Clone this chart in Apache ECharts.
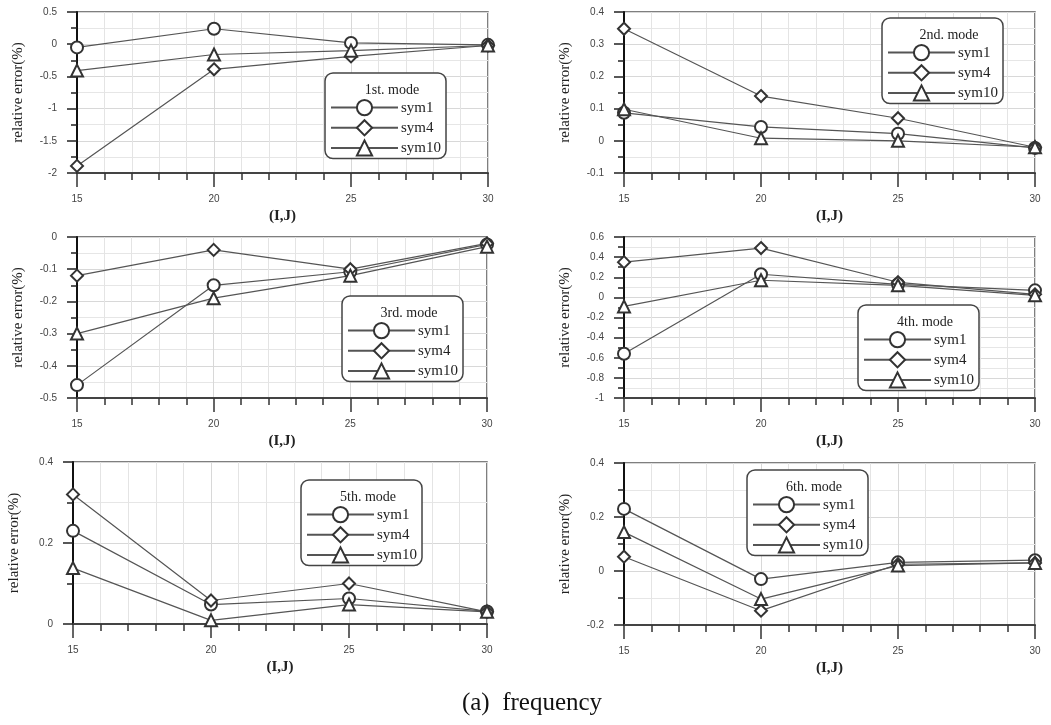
<!DOCTYPE html>
<html>
<head>
<meta charset="utf-8">
<script src="https://cdn.jsdelivr.net/npm/echarts@6/dist/echarts.min.js"></script>
<style>
    html, body { margin: 0; padding: 0; background: #fff; }
    #chart { width: 1051px; height: 725px; }
</style>
</head>
<body>
<div id="chart"></div>
<script>
// (I,J) grid sizes on the x axis
var xValues = [15, 20, 25, 30];
var modeNames = ['1st. mode', '2nd. mode', '3rd. mode', '4th. mode', '5th. mode', '6th. mode'];
var seriesNames = ['sym1', 'sym4', 'sym10'];

// relative error(%) per mode, one row per panel
var sym1 = [
    [-0.05, 0.24, 0.02, -0.01],
    [0.087, 0.043, 0.022, -0.022],
    [-0.46, -0.15, -0.108, -0.023],
    [-0.56, 0.23, 0.13, 0.07],
    [0.23, 0.048, 0.063, 0.031],
    [0.23, -0.03, 0.032, 0.04]
];
var sym4 = [
    [-1.89, -0.39, -0.19, -0.02],
    [0.348, 0.139, 0.07, -0.02],
    [-0.12, -0.04, -0.10, -0.02],
    [0.35, 0.49, 0.15, 0.03],
    [0.32, 0.058, 0.10, 0.03],
    [0.053, -0.147, 0.025, 0.03]
];
var sym10 = [
    [-0.41, -0.16, -0.10, -0.02],
    [0.098, 0.008, 0.0, -0.02],
    [-0.30, -0.19, -0.12, -0.03],
    [-0.09, 0.17, 0.12, 0.02],
    [0.138, 0.009, 0.048, 0.03],
    [0.144, -0.104, 0.02, 0.03]
];

// y axis ranges
var yMin = [-2, -0.1, -0.5, -1, 0, -0.2];
var yMax = [0.5, 0.4, 0, 0.6, 0.4, 0.4];
var yStep = [0.5, 0.1, 0.1, 0.2, 0.2, 0.2];

// layout of the six panels and their legend boxes
var gridBoxes = [
    [77, 12, 411, 161], [624, 12, 411, 161],
    [77, 237, 410, 161], [624, 237, 411, 161],
    [73, 462, 414, 162], [624, 463, 411, 162]
];
var legendBoxes = [[325, 73], [882, 18], [342, 296], [858, 305], [301, 480], [747, 470]];

var symbols = ['emptyCircle', 'emptyDiamond', 'emptyTriangle'];
var serif = '"Liberation Serif", "Times New Roman", serif';
var sans = '"Liberation Sans", Arial, sans-serif';

function createGraph(dom) {
    var chart = echarts.init(dom);
    var grids = [], xAxes = [], yAxes = [], series = [], legends = [], titles = [];
    var allData = [sym1, sym4, sym10];

    $each(modeNames, function (i, mode) {
        var g = gridBoxes[i];
        grids.push({
            left: g[0], top: g[1], width: g[2], height: g[3],
            show: true, borderColor: '#555', borderWidth: 1.5,
            outerBoundsMode: 'none'
        });
        xAxes.push({
            type: 'value', gridIndex: i,
            min: 15, max: 30, interval: 5,
            name: '(I,J)', nameLocation: 'middle', nameGap: 36,
            nameTextStyle: { fontFamily: serif, fontSize: 15, fontWeight: 'bold', color: '#222' },
            axisLine: { onZero: false, lineStyle: { color: '#444', width: 2 } },
            axisTick: { length: 14, lineStyle: { color: '#333', width: 1.5 } },
            minorTick: { show: true, splitNumber: 5, length: 7, lineStyle: { color: '#333', width: 1.5 } },
            axisLabel: { margin: 21, fontSize: 10, color: '#444', fontFamily: sans },
            splitLine: { show: true, lineStyle: { color: '#d8d8d8', width: 1 } },
            minorSplitLine: { show: true, lineStyle: { color: '#e4e4e4', width: 1 } }
        });
        yAxes.push({
            type: 'value', gridIndex: i,
            min: yMin[i], max: yMax[i], interval: yStep[i],
            name: 'relative error(%)', nameLocation: 'middle', nameGap: 51,
            nameTextStyle: { fontFamily: serif, fontSize: 15, color: '#222' },
            axisLine: { show: true, onZero: false, lineStyle: { color: '#111', width: 2 } },
            axisTick: { show: true, length: 10, lineStyle: { color: '#222', width: 1.5 } },
            minorTick: { show: true, splitNumber: 2, length: 6, lineStyle: { color: '#222', width: 1.5 } },
            axisLabel: { margin: 20, fontSize: 10, color: '#444', fontFamily: sans },
            splitLine: { show: true, lineStyle: { color: '#d8d8d8', width: 1 } },
            minorSplitLine: { show: true, lineStyle: { color: '#e6e6e6', width: 1 } }
        });
        $each(seriesNames, function (k, name) {
            var rows = allData[k][i];
            var points = [];
            $each(xValues, function (j, x) {
                points.push([x, rows[j]]);
            });
            series.push({
                name: name, type: 'line',
                xAxisIndex: i, yAxisIndex: i,
                data: points,
                symbol: symbols[k], symbolSize: 12,
                lineStyle: { color: '#555', width: 1.2 },
                itemStyle: { color: '#333', borderWidth: 1.3 },
                emphasis: { disabled: true },
                animation: false
            });
        });
        var lb = legendBoxes[i];
        legends.push({
            data: seriesNames, orient: 'vertical',
            left: lb[0], top: lb[1],
            itemWidth: 67, itemHeight: 19, itemGap: 3,
            padding: [26, 5, 2, 5],
            backgroundColor: '#fff', borderColor: '#444', borderWidth: 1.5, borderRadius: 8,
            selectedMode: false,
            textStyle: { fontFamily: serif, fontSize: 15, color: '#222', padding: [0, 0, 0, -2] }
        });
        titles.push({
            text: mode, left: lb[0] + 62, top: lb[1] + 5, textAlign: 'center',
            textStyle: { fontFamily: serif, fontSize: 14, fontWeight: 'normal', color: '#222' }
        });
    });

    titles.push({
        text: '(a)  frequency', left: 527, top: 686, textAlign: 'center',
        textStyle: { fontFamily: serif, fontSize: 25, fontWeight: 'normal', color: '#111' }
    });

    var option = {
        backgroundColor: '#fff',
        animation: false,
        title: titles,
        legend: legends,
        grid: grids,
        xAxis: xAxes,
        yAxis: yAxes,
        series: series
    };
    chart.setOption(option);
}

function $each(arr, fn) {
    for (var i = 0; i < arr.length; i++) {
        fn(i, arr[i]);
    }
}

createGraph(document.getElementById('chart'));
</script>
</body>
</html>
